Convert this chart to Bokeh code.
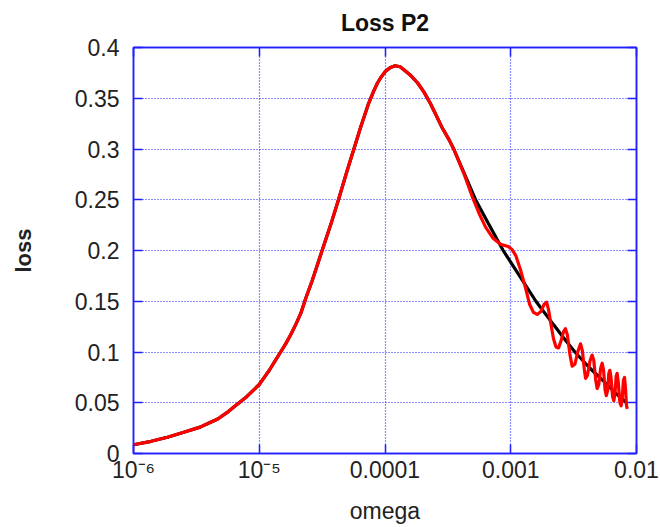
import numpy as np
from bokeh.plotting import figure
from bokeh.models import (FixedTicker, CustomJSTickFormatter, LinearAxis, LogAxis,
                          Range1d, ColumnDataSource)
from bokeh.embed import file_html
from bokeh.resources import INLINE

# ---------------- data ----------------
# x values are given as log10(omega)
black_log_omega = [-6.00, -5.86, -5.73, -5.60, -5.47, -5.40, -5.33, -5.26, -5.20, -5.15,
                   -5.10, -5.05, -5.00, -4.96, -4.92, -4.88, -4.83, -4.79, -4.75, -4.71,
                   -4.67, -4.63, -4.58, -4.54, -4.50, -4.43, -4.37, -4.30, -4.24, -4.19,
                   -4.13, -4.09, -4.06, -4.03, -4.00, -3.96, -3.92, -3.88, -3.85, -3.80,
                   -3.74, -3.69, -3.64, -3.60, -3.55, -3.49, -3.45, -3.37, -3.28, -3.18,
                   -3.06, -2.93, -2.80, -2.66, -2.58, -2.49, -2.37, -2.26, -2.17, -2.08]
black_loss = [0.0086, 0.012, 0.016, 0.021, 0.026, 0.030, 0.034, 0.040, 0.046, 0.051,
              0.056, 0.062, 0.068, 0.075, 0.082, 0.090, 0.100, 0.108, 0.117, 0.127,
              0.138, 0.153, 0.170, 0.185, 0.200, 0.226, 0.250, 0.279, 0.303, 0.323,
              0.345, 0.357, 0.365, 0.371, 0.376, 0.380, 0.382, 0.381, 0.378, 0.373,
              0.365, 0.356, 0.345, 0.335, 0.322, 0.309, 0.299, 0.276, 0.250, 0.227,
              0.200, 0.175, 0.150, 0.127, 0.114, 0.100, 0.084, 0.071, 0.060, 0.050]

red_log_omega = [-6.00, -5.86, -5.73, -5.60, -5.47, -5.40, -5.33, -5.26, -5.20, -5.15,
                 -5.10, -5.05, -5.00, -4.96, -4.92, -4.88, -4.83, -4.79, -4.75, -4.71,
                 -4.67, -4.63, -4.58, -4.54, -4.50, -4.43, -4.37, -4.30, -4.24, -4.19,
                 -4.13, -4.09, -4.06, -4.03, -4.00, -3.96, -3.92, -3.88, -3.85, -3.80,
                 -3.74, -3.69, -3.64, -3.60, -3.55, -3.49, -3.45,
                 -3.37, -3.30, -3.25, -3.20, -3.14, -3.08, -3.02, -2.99, -2.96, -2.92,
                 -2.88, -2.85, -2.82, -2.79, -2.76, -2.735, -2.715, -2.70, -2.68, -2.66,
                 -2.64, -2.62, -2.60, -2.58, -2.565, -2.55, -2.53, -2.512, -2.49, -2.465,
                 -2.445, -2.43, -2.415, -2.405, -2.39, -2.37, -2.353, -2.34, -2.325, -2.313,
                 -2.30, -2.285, -2.273, -2.262, -2.25, -2.24, -2.23, -2.22, -2.212, -2.203,
                 -2.19, -2.18, -2.171, -2.162, -2.154, -2.145, -2.132, -2.122, -2.113, -2.104,
                 -2.095, -2.087, -2.080, -2.074]
red_loss = [0.0086, 0.012, 0.016, 0.021, 0.026, 0.030, 0.034, 0.040, 0.046, 0.051,
            0.056, 0.062, 0.068, 0.075, 0.082, 0.090, 0.100, 0.108, 0.117, 0.127,
            0.138, 0.153, 0.170, 0.185, 0.200, 0.226, 0.250, 0.279, 0.303, 0.323,
            0.345, 0.357, 0.365, 0.371, 0.376, 0.380, 0.382, 0.381, 0.378, 0.373,
            0.365, 0.356, 0.345, 0.335, 0.322, 0.309, 0.299,
            0.275, 0.251, 0.236, 0.223, 0.212, 0.206, 0.204, 0.201, 0.195, 0.180,
            0.162, 0.147, 0.139, 0.137, 0.140, 0.147, 0.149, 0.142, 0.127, 0.113,
            0.105, 0.104, 0.111, 0.120, 0.123, 0.117, 0.098, 0.086, 0.088, 0.101,
            0.108, 0.101, 0.083, 0.074, 0.077, 0.091, 0.097, 0.092, 0.073, 0.064,
            0.068, 0.084, 0.089, 0.082, 0.063, 0.057, 0.062, 0.079, 0.082, 0.075,
            0.056, 0.052, 0.059, 0.076, 0.079, 0.070, 0.050, 0.047, 0.055, 0.072,
            0.075, 0.063, 0.048, 0.044]

x_tick_exps = [-6, -5, -4, -3, -2]
x_tick_labels = ["10\u207b\u2076", "10\u207b\u2075", "0.0001", "0.001", "0.01"]
y_ticks = [0, 0.05, 0.1, 0.15, 0.2, 0.25, 0.3, 0.35, 0.4]
y_tick_labels = ["0", "0.05", "0.1", "0.15", "0.2", "0.25", "0.3", "0.35", "0.4"]

title_text = "Loss P2"
x_label = "omega"
y_label = "loss"

# ---------------- style ----------------
BLUE = "#1f1fff"
FONT = "Liberation Sans"
TXT = "#222222"

black_src = ColumnDataSource(dict(omega=10.0 ** np.array(black_log_omega), loss=black_loss))
red_src = ColumnDataSource(dict(omega=10.0 ** np.array(red_log_omega), loss=red_loss))

p = figure(width=660, height=527, x_axis_type="log",
           x_range=Range1d(10.0 ** x_tick_exps[0], 10.0 ** x_tick_exps[-1]),
           y_range=Range1d(y_ticks[0], y_ticks[-1]),
           output_backend="svg", toolbar_location=None, title=title_text,
           min_border_left=133, min_border_right=24, min_border_top=0, min_border_bottom=74)

p.background_fill_color = "white"
p.border_fill_color = "white"
p.outline_line_color = BLUE
p.outline_line_width = 1.5

x_ticker = FixedTicker(ticks=[10.0 ** e for e in x_tick_exps], minor_ticks=[])
y_ticker = FixedTicker(ticks=y_ticks, minor_ticks=[])

x_fmt = CustomJSTickFormatter(args=dict(exps=x_tick_exps, labels=x_tick_labels), code="""
const e = Math.log10(tick);
for (let i = 0; i < exps.length; i++) { if (Math.abs(exps[i] - e) < 1e-6) return labels[i]; }
return "";
""")
y_fmt = CustomJSTickFormatter(args=dict(vals=y_ticks, labels=y_tick_labels), code="""
for (let i = 0; i < vals.length; i++) { if (Math.abs(vals[i] - tick) < 1e-9) return labels[i]; }
return "";
""")
empty_fmt = CustomJSTickFormatter(code="return '';")


def style_axis(ax):
    ax.axis_line_color = BLUE
    ax.axis_line_width = 1.5
    ax.major_tick_line_color = BLUE
    ax.major_tick_line_width = 1.5
    ax.major_tick_in = 9
    ax.major_tick_out = 0
    ax.minor_tick_line_color = None
    ax.major_label_text_font = FONT
    ax.major_label_text_font_size = "23px"
    ax.major_label_text_color = TXT


xa = p.xaxis[0]
xa.ticker = x_ticker
xa.formatter = x_fmt
style_axis(xa)
xa.major_label_standoff = 3
xa.axis_label = x_label
xa.axis_label_text_font = FONT
xa.axis_label_text_font_size = "23px"
xa.axis_label_text_font_style = "normal"
xa.axis_label_text_color = TXT
xa.axis_label_standoff = 12

ya = p.yaxis[0]
ya.ticker = y_ticker
ya.formatter = y_fmt
style_axis(ya)
ya.major_label_standoff = 14
ya.axis_label = y_label
ya.axis_label_text_font = FONT
ya.axis_label_text_font_size = "22px"
ya.axis_label_text_font_style = "bold"
ya.axis_label_text_color = TXT
ya.axis_label_standoff = 36

top = LogAxis(ticker=x_ticker, formatter=empty_fmt)
style_axis(top)
top.major_label_text_font_size = "0px"
top.major_label_standoff = 0
p.add_layout(top, "above")

right = LinearAxis(ticker=y_ticker, formatter=empty_fmt)
style_axis(right)
right.major_label_text_font_size = "0px"
right.major_label_standoff = 0
p.add_layout(right, "right")

p.xgrid.ticker = x_ticker
p.ygrid.ticker = y_ticker
p.grid.grid_line_color = BLUE
p.grid.grid_line_width = 1.2
p.grid.grid_line_dash = "1 2"
p.grid.grid_line_alpha = 1.0

p.title.text_font = FONT
p.title.text_font_size = "23px"
p.title.text_font_style = "bold"
p.title.text_color = "#111111"
p.title.align = "center"
p.title.vertical_align = "top"
p.title.standoff = 19

p.line("omega", "loss", source=black_src, line_color="black", line_width=3.2)
p.line("omega", "loss", source=red_src, line_color="#ff0000", line_width=3.2,
       line_join="round")

open("out.html", "w").write(file_html(p, INLINE))
